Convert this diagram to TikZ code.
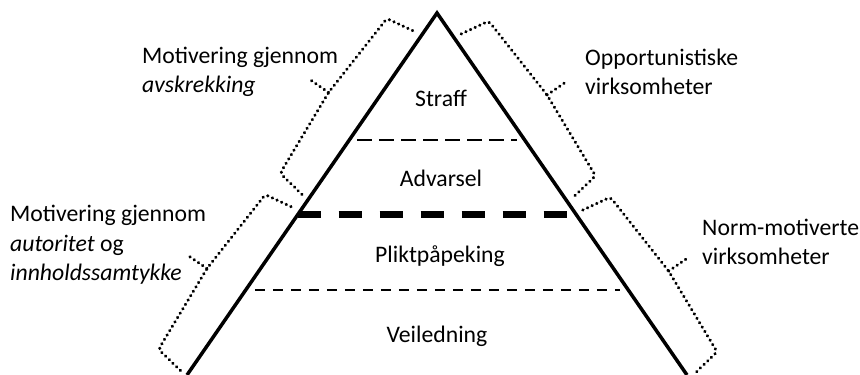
\documentclass[tikz,border=0pt]{standalone}
\usepackage{fontspec}
\setmainfont{Carlito}
\usetikzlibrary{calc}

\tikzset{
  side/.style={line width=3.5pt},
  toplevel/.style={line width=2.6pt, dash pattern=on 15pt off 7pt},
  level/.style={line width=2.6pt, dash pattern=on 10pt off 8pt},
  divide/.style={line width=7pt, dash pattern=on 23pt off 18pt},
  bracket/.style={line width=3.2pt, line cap=round, dash pattern=on 0.3pt off 4.8pt, rounded corners=3pt},
  lbl/.style={inner sep=0pt, font=\fontsize{23.7}{29.5}\selectfont},
}

\begin{document}
\begin{tikzpicture}[x=1pt,y=1pt]
\useasboundingbox (0,0) rectangle (860,375);
\clip (0,0) rectangle (860,375);

\coordinate (apex) at (437,362);
\coordinate (bl) at (187,0);
\coordinate (br) at (687,0);

\draw[side] (bl) -- (apex) -- (br);

% level lines
\coordinate (l1) at ($(apex)!0.3508!(bl)$);
\coordinate (r1) at ($(apex)!0.3508!(br)$);
\coordinate (l2) at ($(apex)!0.558!(bl)$);
\coordinate (r2) at ($(apex)!0.558!(br)$);
\coordinate (l3) at ($(apex)!0.765!(bl)$);
\coordinate (r3) at ($(apex)!0.765!(br)$);

\draw[toplevel] ([xshift=8pt]l1) -- ([xshift=-8pt]r1);
\draw[divide] (l2) -- (r2);
\draw[level] ([xshift=9pt]l3) -- ([xshift=-8pt]r3);

\node[lbl, anchor=base] (straff) at (441,268) {Straff};
\node[lbl, anchor=base] (advarsel) at (441,188) {Advarsel};
\node[lbl, anchor=base] (plikt) at (440,112) {Pliktpåpeking};
\node[lbl, anchor=base] (veiledning) at (437,32) {Veiledning};

% brackets along the sides
\foreach \s/\e/\r in {226/bl/55.4, 440/bl/55.4, 31/br/-55.4, 245/br/-55.4}
    \draw[bracket, shift={($(apex)!\s pt!(\e)$)}, rotate=\r]
        (0,8) -- (5,38) -- (99,44) -- (193,38) -- (198,8) (99,44) -- (99,68);

\node[lbl, anchor=base west, align=left] (avskrekking) at (142,282)
    {Motivering gjennom\\\textit{avskrekking}};
\node[lbl, anchor=base west, align=left] (autoritet) at (10,94)
    {Motivering gjennom\\\textit{autoritet} og\\\textit{innholdssamtykke}};
\node[lbl, anchor=base west, align=left] (opportunist) at (585,280)
    {Opportunistiske\\virksomheter};
\node[lbl, anchor=base west, align=left] (normmotivert) at (702,110)
    {Norm-motiverte\\virksomheter};

\end{tikzpicture}
\end{document}
